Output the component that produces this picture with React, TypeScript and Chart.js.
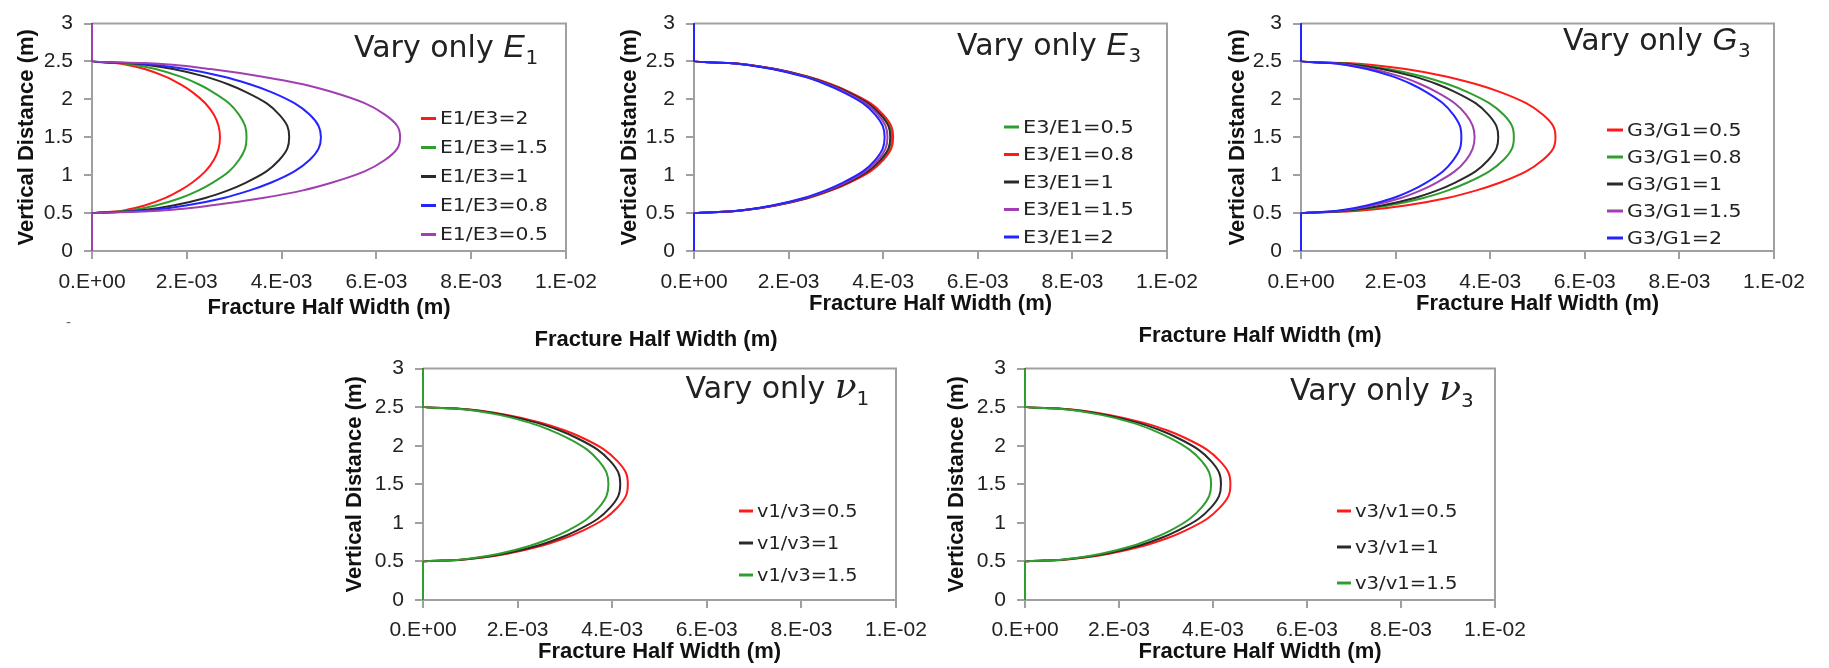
import React, { useEffect, useRef } from 'react';
import { Chart, registerables } from 'chart.js';

Chart.register(...registerables);

// ---------- shared axis data ----------
const Y_LEVELS = [0, 0.5, 0.52, 0.55, 0.6, 0.7, 0.8, 0.9, 1.05, 1.2, 1.35, 1.5, 1.65, 1.8, 1.95, 2.1, 2.2, 2.3, 2.4, 2.45, 2.48, 2.5, 3];
const X_TICK_VALUES = [0, 0.002, 0.004, 0.006, 0.008, 0.01];
const X_TICK_LABELS = ['0.E+00', '2.E-03', '4.E-03', '6.E-03', '8.E-03', '1.E-02'];
const Y_TICK_VALUES = [0, 0.5, 1, 1.5, 2, 2.5, 3];
const Y_TICK_LABELS = ['0', '0.5', '1', '1.5', '2', '2.5', '3'];
const X_TITLE = 'Fracture Half Width (m)';
const Y_TITLE = 'Vertical Distance (m)';

// ---------- colours ----------
const RED = '#ff1a1a';
const GREEN = '#2f9e2f';
const BLACK = '#2a2a2a';
const BLUE = '#2424ff';
const PURPLE = '#a040b0';
const AXIS = '#a0a0a0';
const TEXT = '#222222';

// ---------- half widths (units of 1E-3 m), one value per Y_LEVELS entry ----------
// Panel 1: vary only E1
const P1_LABELS = ['E1/E3=2', 'E1/E3=1.5', 'E1/E3=1', 'E1/E3=0.8', 'E1/E3=0.5'];
const P1_E2 = [0, 0, 0.49, 0.78, 1.11, 1.55, 1.86, 2.11, 2.39, 2.57, 2.67, 2.70, 2.67, 2.57, 2.39, 2.11, 1.86, 1.55, 1.11, 0.78, 0.49, 0, 0];
const P1_E15 = [0, 0, 0.59, 0.95, 1.34, 1.87, 2.25, 2.54, 2.89, 3.10, 3.23, 3.26, 3.23, 3.10, 2.89, 2.54, 2.25, 1.87, 1.34, 0.95, 0.59, 0, 0];
const P1_E1 = [0, 0, 0.75, 1.21, 1.71, 2.39, 2.87, 3.24, 3.68, 3.95, 4.12, 4.16, 4.12, 3.95, 3.68, 3.24, 2.87, 2.39, 1.71, 1.21, 0.75, 0, 0];
const P1_E08 = [0, 0, 0.87, 1.40, 1.98, 2.78, 3.33, 3.77, 4.27, 4.59, 4.78, 4.83, 4.78, 4.59, 4.27, 3.77, 3.33, 2.78, 1.98, 1.40, 0.87, 0, 0];
const P1_E05 = [0, 0, 1.10, 1.80, 2.50, 3.60, 4.45, 5.05, 5.75, 6.18, 6.44, 6.50, 6.44, 6.18, 5.75, 5.05, 4.45, 3.60, 2.50, 1.80, 1.10, 0, 0];

// Panel 2: vary only E3
const P2_LABELS = ['E3/E1=0.5', 'E3/E1=0.8', 'E3/E1=1', 'E3/E1=1.5', 'E3/E1=2'];
const P2_E05 = [0, 0, 0.75, 1.21, 1.71, 2.40, 2.88, 3.26, 3.70, 3.97, 4.14, 4.18, 4.14, 3.97, 3.70, 3.26, 2.88, 2.40, 1.71, 1.21, 0.75, 0, 0];
const P2_E08 = [0, 0, 0.76, 1.22, 1.73, 2.42, 2.90, 3.28, 3.73, 4.00, 4.17, 4.21, 4.17, 4.00, 3.73, 3.28, 2.90, 2.42, 1.73, 1.22, 0.76, 0, 0];
const P2_E1 = [0, 0, 0.75, 1.20, 1.70, 2.39, 2.86, 3.24, 3.67, 3.94, 4.11, 4.15, 4.11, 3.94, 3.67, 3.24, 2.86, 2.39, 1.70, 1.20, 0.75, 0, 0];
const P2_E15 = [0, 0, 0.74, 1.19, 1.68, 2.35, 2.82, 3.19, 3.62, 3.89, 4.05, 4.09, 4.05, 3.89, 3.62, 3.19, 2.82, 2.35, 1.68, 1.19, 0.74, 0, 0];
const P2_E2 = [0, 0, 0.73, 1.17, 1.65, 2.32, 2.78, 3.14, 3.57, 3.83, 3.99, 4.03, 3.99, 3.83, 3.57, 3.14, 2.78, 2.32, 1.65, 1.17, 0.73, 0, 0];

// Panel 3: vary only G3
const P3_LABELS = ['G3/G1=0.5', 'G3/G1=0.8', 'G3/G1=1', 'G3/G1=1.5', 'G3/G1=2'];
const P3_G05 = [0, 0, 0.97, 1.56, 2.21, 3.09, 3.71, 4.20, 4.76, 5.11, 5.33, 5.38, 5.33, 5.11, 4.76, 4.20, 3.71, 3.09, 2.21, 1.56, 0.97, 0, 0];
const P3_G08 = [0, 0, 0.81, 1.31, 1.85, 2.59, 3.11, 3.51, 3.98, 4.28, 4.46, 4.50, 4.46, 4.28, 3.98, 3.51, 3.11, 2.59, 1.85, 1.31, 0.81, 0, 0];
const P3_G1 = [0, 0, 0.75, 1.21, 1.71, 2.40, 2.88, 3.25, 3.69, 3.96, 4.13, 4.17, 4.13, 3.96, 3.69, 3.25, 2.88, 2.40, 1.71, 1.21, 0.75, 0, 0];
const P3_G15 = [0, 0, 0.66, 1.06, 1.50, 2.11, 2.53, 2.86, 3.25, 3.49, 3.63, 3.67, 3.63, 3.49, 3.25, 2.86, 2.53, 2.11, 1.50, 1.06, 0.66, 0, 0];
const P3_G2 = [0, 0, 0.61, 0.98, 1.39, 1.95, 2.34, 2.64, 3.00, 3.22, 3.36, 3.39, 3.36, 3.22, 3.00, 2.64, 2.34, 1.95, 1.39, 0.98, 0.61, 0, 0];

// Panel 4: vary only v1
const P4_LABELS = ['v1/v3=0.5', 'v1/v3=1', 'v1/v3=1.5'];
const P4_V05 = [0, 0, 0.78, 1.26, 1.78, 2.49, 2.99, 3.38, 3.83, 4.11, 4.29, 4.33, 4.29, 4.11, 3.83, 3.38, 2.99, 2.49, 1.78, 1.26, 0.78, 0, 0];
const P4_V1 = [0, 0, 0.75, 1.21, 1.71, 2.40, 2.88, 3.25, 3.69, 3.96, 4.13, 4.17, 4.13, 3.96, 3.69, 3.25, 2.88, 2.40, 1.71, 1.21, 0.75, 0, 0];
const P4_V15 = [0, 0, 0.71, 1.14, 1.61, 2.25, 2.70, 3.06, 3.47, 3.72, 3.88, 3.92, 3.88, 3.72, 3.47, 3.06, 2.70, 2.25, 1.61, 1.14, 0.71, 0, 0];

// Panel 5: vary only v3
const P5_LABELS = ['v3/v1=0.5', 'v3/v1=1', 'v3/v1=1.5'];
const P5_V05 = [0, 0, 0.79, 1.27, 1.79, 2.51, 3.02, 3.41, 3.87, 4.15, 4.33, 4.37, 4.33, 4.15, 3.87, 3.41, 3.02, 2.51, 1.79, 1.27, 0.79, 0, 0];
const P5_V1 = [0, 0, 0.75, 1.21, 1.71, 2.40, 2.88, 3.25, 3.69, 3.96, 4.13, 4.17, 4.13, 3.96, 3.69, 3.25, 2.88, 2.40, 1.71, 1.21, 0.75, 0, 0];
const P5_V15 = [0, 0, 0.71, 1.15, 1.62, 2.28, 2.73, 3.09, 3.50, 3.76, 3.92, 3.96, 3.92, 3.76, 3.50, 3.09, 2.73, 2.28, 1.62, 1.15, 0.71, 0, 0];

type Series = { label: string; widths: number[]; color: string };
type Panel = {
  canvas: [number, number, number, number];
  area: [number, number, number, number];
  yTitleX: number; xTitleY: number; xTickY: number; yTickRight: number;
  legend: { sx: number; ex: number; tx: number; y0: number; dy: number; stretch: number };
  note: { x: number; base: number; letter: string; sub: string; greek: boolean };
  series: Series[];
};

const PANELS: Panel[] = [
  {
    canvas: [0, 0, 610, 330], area: [92, 17, 566, 251], yTitleX: 27, xTitleY: 308, xTickY: 282, yTickRight: 73,
    legend: { sx: 421, ex: 436, tx: 440, y0: 118.5, dy: 29, stretch: 1.13 },
    note: { x: 354, base: 57, letter: 'E', sub: '1', greek: false },
    series: [
      { label: P1_LABELS[0], widths: P1_E2, color: RED },
      { label: P1_LABELS[1], widths: P1_E15, color: GREEN },
      { label: P1_LABELS[2], widths: P1_E1, color: BLACK },
      { label: P1_LABELS[3], widths: P1_E08, color: BLUE },
      { label: P1_LABELS[4], widths: P1_E05, color: PURPLE },
    ],
  },
  {
    canvas: [600, 0, 612, 330], area: [694, 17, 1167, 251], yTitleX: 630, xTitleY: 304, xTickY: 282, yTickRight: 675,
    legend: { sx: 1004, ex: 1019, tx: 1023, y0: 127, dy: 27.5, stretch: 1.16 },
    note: { x: 957, base: 55, letter: 'E', sub: '3', greek: false },
    series: [
      { label: P2_LABELS[0], widths: P2_E05, color: GREEN },
      { label: P2_LABELS[1], widths: P2_E08, color: RED },
      { label: P2_LABELS[2], widths: P2_E1, color: BLACK },
      { label: P2_LABELS[3], widths: P2_E15, color: PURPLE },
      { label: P2_LABELS[4], widths: P2_E2, color: BLUE },
    ],
  },
  {
    canvas: [1210, 0, 619, 330], area: [1301, 14, 1774, 251], yTitleX: 1238, xTitleY: 304, xTickY: 282, yTickRight: 1282,
    legend: { sx: 1607, ex: 1623, tx: 1627, y0: 130, dy: 27, stretch: 1.14 },
    note: { x: 1563, base: 50, letter: 'G', sub: '3', greek: false },
    series: [
      { label: P3_LABELS[0], widths: P3_G05, color: RED },
      { label: P3_LABELS[1], widths: P3_G08, color: GREEN },
      { label: P3_LABELS[2], widths: P3_G1, color: BLACK },
      { label: P3_LABELS[3], widths: P3_G15, color: PURPLE },
      { label: P3_LABELS[4], widths: P3_G2, color: BLUE },
    ],
  },
  {
    canvas: [310, 345, 630, 323], area: [423, 363, 896, 600], yTitleX: 355, xTitleY: 652, xTickY: 630, yTickRight: 404,
    legend: { sx: 739, ex: 753, tx: 757, y0: 511, dy: 32, stretch: 1.07 },
    note: { x: 685.5, base: 398, letter: 'ν', sub: '1', greek: true },
    series: [
      { label: P4_LABELS[0], widths: P4_V05, color: RED },
      { label: P4_LABELS[1], widths: P4_V1, color: BLACK },
      { label: P4_LABELS[2], widths: P4_V15, color: GREEN },
    ],
  },
  {
    canvas: [920, 345, 620, 323], area: [1025, 363, 1495, 600], yTitleX: 957, xTitleY: 652, xTickY: 630, yTickRight: 1006,
    legend: { sx: 1337, ex: 1351, tx: 1355, y0: 511, dy: 36, stretch: 1.09 },
    note: { x: 1290, base: 400, letter: 'ν', sub: '3', greek: true },
    series: [
      { label: P5_LABELS[0], widths: P5_V05, color: RED },
      { label: P5_LABELS[1], widths: P5_V1, color: BLACK },
      { label: P5_LABELS[2], widths: P5_V15, color: GREEN },
    ],
  },
];

const TITLE_FAMILY = 'Liberation Sans';
const TITLE_SIZE = 22;
const TICK_FAMILY = 'Liberation Sans';
const TICK_SIZE = 21;
const TICK_LEN = 8;

function buildChart(canvas: HTMLCanvasElement, p: Panel) {
  const [cx, cy, cw, ch] = p.canvas;
  const [L, T, R, B] = p.area;
  const tLH = TITLE_SIZE * 1.2;
  const kLH = TICK_SIZE * 1.2;
  const xAxisH = cy + ch - B;
  const yAxisW = L - cx;
  const xTitlePad = cy + ch - p.xTitleY - tLH / 2;
  const yTitlePad = p.yTitleX - cx - tLH / 2;
  const xTickPad = p.xTickY - B - TICK_LEN - kLH / 2;
  const yTickPad = L - TICK_LEN - p.yTickRight;

  const decor = {
    id: 'decor',
    beforeDatasetsDraw(chart: any) {
      const { ctx, chartArea: a } = chart;
      ctx.save();
      ctx.strokeStyle = AXIS;
      ctx.lineWidth = 2;
      ctx.beginPath();
      ctx.moveTo(a.left, a.top);
      ctx.lineTo(a.right, a.top);
      ctx.lineTo(a.right, a.bottom);
      ctx.stroke();
      ctx.restore();
    },
    afterDraw(chart: any) {
      const ctx = chart.ctx as CanvasRenderingContext2D;
      const lg = p.legend;
      chart.data.datasets.forEach((ds: any, i: number) => {
        const y = lg.y0 + i * lg.dy - cy;
        ctx.save();
        ctx.strokeStyle = ds.borderColor;
        ctx.lineWidth = 3;
        ctx.beginPath();
        ctx.moveTo(lg.sx - cx, y);
        ctx.lineTo(lg.ex - cx, y);
        ctx.stroke();
        ctx.translate(lg.tx - cx, y);
        ctx.scale(lg.stretch, 1);
        ctx.font = '18px "DejaVu Sans"';
        ctx.fillStyle = TEXT;
        ctx.textBaseline = 'middle';
        ctx.textAlign = 'left';
        ctx.fillText(ds.label, 0, 1);
        ctx.restore();
      });
      const n = p.note;
      ctx.save();
      ctx.fillStyle = TEXT;
      ctx.textBaseline = 'alphabetic';
      ctx.textAlign = 'left';
      ctx.font = '30px "DejaVu Sans"';
      const main = 'Vary only ';
      let x = n.x - cx;
      const base = n.base - cy;
      ctx.fillText(main, x, base);
      x += ctx.measureText(main).width;
      ctx.font = n.greek ? 'italic 36px "DejaVu Serif"' : 'italic 32px "Liberation Sans"';
      ctx.fillText(n.letter, x, base);
      x += ctx.measureText(n.letter).width + (n.greek ? 0 : 1);
      ctx.font = '20px "DejaVu Sans"';
      ctx.fillText(n.sub, x, base + 7);
      ctx.restore();
    },
  };

  const datasets = p.series.map((s, i) => ({
    label: s.label,
    data: Y_LEVELS.map((y, k) => ({ x: s.widths[k] * 1e-3, y })),
    borderColor: s.color,
    backgroundColor: s.color,
    borderWidth: 2,
    pointRadius: 0,
    fill: false,
    cubicInterpolationMode: 'monotone' as const,
    clip: false as any,
    order: p.series.length - 1 - i,
  }));

  return new Chart(canvas, {
    type: 'line',
    data: { datasets },
    plugins: [decor],
    options: {
      animation: false,
      responsive: false,
      maintainAspectRatio: false,
      devicePixelRatio: 1,
      indexAxis: 'y',
      events: [],
      layout: { padding: { left: 0, top: T - cy, right: cx + cw - R, bottom: 0 } },
      plugins: { legend: { display: false }, tooltip: { enabled: false }, title: { display: false } },
      scales: {
        x: {
          type: 'linear',
          position: 'bottom',
          min: 0,
          max: 0.01,
          afterBuildTicks: (s: any) => { s.ticks = X_TICK_VALUES.map((v) => ({ value: v })); },
          afterFit: (s: any) => { s.height = xAxisH; },
          ticks: {
            autoSkip: false,
            maxRotation: 0,
            minRotation: 0,
            padding: xTickPad,
            color: TEXT,
            font: { family: TICK_FAMILY, size: TICK_SIZE, lineHeight: 1.2 },
            callback: (_v: any, i: number) => X_TICK_LABELS[i],
          },
          grid: { display: true, drawOnChartArea: false, drawTicks: true, tickLength: TICK_LEN, color: AXIS, lineWidth: 2 },
          border: { display: true, color: AXIS, width: 2 },
          title: {
            display: true,
            text: X_TITLE,
            color: '#111',
            font: { family: TITLE_FAMILY, size: TITLE_SIZE, weight: 'bold', lineHeight: 1.2 },
            padding: { top: 0, bottom: xTitlePad },
          },
        },
        y: {
          type: 'linear',
          position: 'left',
          min: 0,
          max: 3,
          afterBuildTicks: (s: any) => { s.ticks = Y_TICK_VALUES.map((v) => ({ value: v })); },
          afterFit: (s: any) => { s.width = yAxisW; },
          ticks: {
            autoSkip: false,
            padding: yTickPad,
            color: TEXT,
            font: { family: TICK_FAMILY, size: TICK_SIZE, lineHeight: 1.2 },
            callback: (_v: any, i: number) => Y_TICK_LABELS[i],
          },
          grid: { display: true, drawOnChartArea: false, drawTicks: true, tickLength: TICK_LEN, color: AXIS, lineWidth: 2 },
          border: { display: true, color: AXIS, width: 2 },
          title: {
            display: true,
            text: Y_TITLE,
            color: '#111',
            font: { family: TITLE_FAMILY, size: TITLE_SIZE, weight: 'bold', lineHeight: 1.2 },
            padding: { top: yTitlePad, bottom: 0 },
          },
        },
      },
    } as any,
  });
}

function PanelChart({ panel }: { panel: Panel }) {
  const ref = useRef<HTMLCanvasElement>(null);
  useEffect(() => {
    if (!ref.current) return;
    const chart = buildChart(ref.current, panel);
    return () => chart.destroy();
  }, [panel]);
  const [cx, cy, cw, ch] = panel.canvas;
  return (
    <canvas
      ref={ref}
      width={cw}
      height={ch}
      style={{ position: 'absolute', left: cx, top: cy, width: cw, height: ch }}
    />
  );
}

const strayStyle = (x: number, y: number): React.CSSProperties => ({
  position: 'absolute',
  left: x,
  top: y,
  transform: 'translate(-50%, -50%)',
  font: `bold ${TITLE_SIZE}px "${TITLE_FAMILY}"`,
  color: '#111',
  whiteSpace: 'nowrap',
});

export default function App() {
  return (
    <div style={{ position: 'absolute', left: 0, top: 0, width: 1829, height: 668, background: '#fff', overflow: 'hidden' }}>
      {PANELS.map((p, i) => (
        <PanelChart key={i} panel={p} />
      ))}
      <div style={strayStyle(656, 339)}>{X_TITLE}</div>
      <div style={strayStyle(1260, 335)}>{X_TITLE}</div>
      <div style={{ position: 'absolute', left: 66, top: 314, font: '14px "DejaVu Sans"', color: '#666' }}>-</div>
    </div>
  );
}
